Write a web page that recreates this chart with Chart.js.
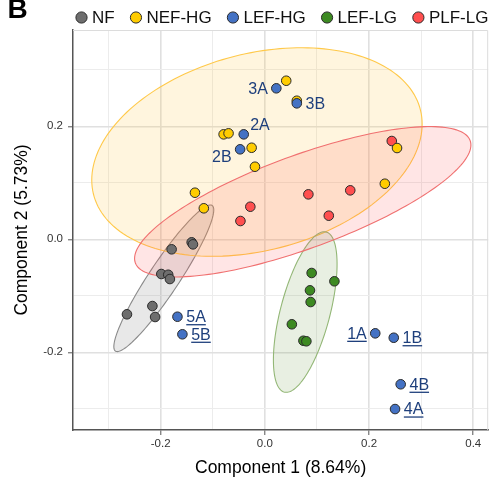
<!DOCTYPE html>
<html>
<head>
<meta charset="utf-8">
<script src="https://cdn.jsdelivr.net/npm/chart.js@4.4.1/dist/chart.umd.min.js"></script>
<style>
html,body{margin:0;padding:0;background:#fff;}
canvas{display:block;}
</style>
</head>
<body>
<canvas id="c" width="494" height="481"></canvas>
<script>
// ---------------- data ----------------
const groupNames = ['NF', 'NEF-HG', 'LEF-HG', 'LEF-LG', 'PLF-LG'];
const groupColors = ['#6e6e6e', '#ffcc00', '#4472c4', '#3d8a22', '#ff4f4f'];

const nfX = [-0.179, -0.1405, -0.138, -0.1988, -0.1855, -0.1823, -0.2159, -0.2647, -0.2107];
const nfY = [-0.0177, -0.0053, -0.0089, -0.0614, -0.0627, -0.0703, -0.1181, -0.1327, -0.1375];

const nefHgX = [0.041, 0.0613, -0.0792, -0.0697, -0.0254, -0.019, -0.1342, -0.1172, 0.2537, 0.2303];
const nefHgY = [0.2807, 0.2453, 0.1858, 0.1876, 0.1621, 0.1285, 0.0825, 0.0549, 0.1616, 0.0984];

const lefHgX = [0.022, 0.0613, -0.0406, -0.0475, -0.1678, -0.1583, 0.2119, 0.2474, 0.2607, 0.2499];
const lefHgY = [0.2673, 0.2407, 0.1858, 0.1593, -0.137, -0.1681, -0.1664, -0.1742, -0.2566, -0.3004];
const lefHgLabels = ['3A', '3B', '2A', '2B', '5A', '5B', '1A', '1B', '4B', '4A'];
const lefHgLabelSide = ['left', 'right', 'upright', 'downleft', 'right', 'right', 'left', 'right', 'right', 'right'];
const lefHgUnderline = [false, false, false, false, true, true, true, true, true, true];

const lefLgX = [0.0898, 0.1335, 0.0866, 0.0879, 0.0518, 0.074, 0.0797];
const lefLgY = [-0.0596, -0.0743, -0.0903, -0.111, -0.1504, -0.1795, -0.1805];

const plfLgX = [-0.0279, -0.0469, 0.2436, 0.0835, 0.1639, 0.1227];
const plfLgY = [0.0577, 0.0324, 0.174, 0.0796, 0.0867, 0.0418];

// confidence ellipses: centre, half width, y-offset of right-most point, half height (data units)
const ellipseGroup = ['NF', 'NEF-HG', 'LEF-LG', 'PLF-LG'];
const ellipseCx = [-0.194, -0.0152, 0.0775, 0.0727];
const ellipseCy = [-0.069, 0.1545, -0.1287, 0.0665];
const ellipseHalfW = [0.0959, 0.3171, 0.0611, 0.3228];
const ellipseRightDy = [0.1209, 0.0496, 0.0848, 0.1004];
const ellipseHalfH = [0.1297, 0.1846, 0.1421, 0.1331];
const ellipseFill = ['rgba(128,128,128,0.18)', 'rgba(255,195,50,0.16)', 'rgba(100,150,60,0.15)', 'rgba(255,80,80,0.15)'];
const ellipseStroke = ['#8a8a8a', '#ffc94a', '#93b776', '#f07070'];

const xTickLabels = [-0.2, 0.0, 0.2, 0.4];
const yTickLabels = [-0.2, 0.0, 0.2];
const xTitle = 'Component 1 (8.64%)';
const yTitle = 'Component 2 (5.73%)';
const panelLetter = 'B';

// ---------------- helpers ----------------
const FONT = "'Liberation Sans', Arial, Helvetica, sans-serif";
Chart.defaults.font.family = FONT;

function pts(xs, ys) { return xs.map((x, i) => ({ x: x, y: ys[i] })); }
function isMajor(v, list) { return list.some(t => Math.abs(t - v) < 1e-6); }
function fmt(v) { return Math.abs(v) < 1e-9 ? '0.0' : v.toFixed(1); }

const seriesX = [nfX, nefHgX, lefHgX, lefLgX, plfLgX];
const seriesY = [nfY, nefHgY, lefHgY, lefLgY, plfLgY];
const drawOrder = [4, 2, 1, 3, 5]; // higher = drawn earlier (further back)

const datasets = groupNames.map((g, i) => ({
  label: g,
  data: pts(seriesX[i], seriesY[i]),
  backgroundColor: groupColors[i],
  borderColor: '#2a2a2a',
  borderWidth: 1,
  pointRadius: 4.8,
  pointHoverRadius: 4.8,
  order: drawOrder[i]
}));

// ---------------- plugins ----------------
const ellipsePlugin = {
  id: 'ellipses',
  beforeDatasetsDraw(chart) {
    const { ctx, chartArea: a, scales: { x, y } } = chart;
    ctx.save();
    ctx.strokeStyle = '#dcdcdc';
    ctx.lineWidth = 1;
    ctx.beginPath();
    ctx.moveTo(a.left, a.top + 0.5); ctx.lineTo(a.right - 0.5, a.top + 0.5); ctx.lineTo(a.right - 0.5, a.bottom);
    ctx.stroke();
    ctx.beginPath();
    ctx.rect(a.left, a.top, a.right - a.left, a.bottom - a.top);
    ctx.clip();
    for (let e = 0; e < ellipseGroup.length; e++) {
      const cx = ellipseCx[e], cy = ellipseCy[e];
      const ux = ellipseHalfW[e], uy = ellipseRightDy[e];
      const vy = Math.sqrt(Math.max(0, ellipseHalfH[e] * ellipseHalfH[e] - uy * uy));
      ctx.beginPath();
      const N = 180;
      for (let k = 0; k <= N; k++) {
        const t = (k / N) * Math.PI * 2;
        const dx = cx + ux * Math.cos(t);
        const dy = cy + uy * Math.cos(t) + vy * Math.sin(t);
        const px = x.getPixelForValue(dx), py = y.getPixelForValue(dy);
        if (k === 0) ctx.moveTo(px, py); else ctx.lineTo(px, py);
      }
      ctx.closePath();
      ctx.fillStyle = ellipseFill[e];
      ctx.fill();
      ctx.strokeStyle = ellipseStroke[e];
      ctx.lineWidth = 1.1;
      ctx.stroke();
    }
    ctx.restore();
  }
};

const labelPlugin = {
  id: 'pointLabels',
  afterDatasetsDraw(chart) {
    const { ctx } = chart;
    const meta = chart.getDatasetMeta(2);
    ctx.save();
    ctx.font = '16px ' + FONT;
    ctx.fillStyle = '#1e3f7c';
    ctx.strokeStyle = '#1e3f7c';
    ctx.textBaseline = 'middle';
    meta.data.forEach((el, i) => {
      const px = el.x, py = el.y;
      let tx, ty, align;
      switch (lefHgLabelSide[i]) {
        case 'left': tx = px - 8.5; ty = py; align = 'right'; break;
        case 'right': tx = px + 8.8; ty = py; align = 'left'; break;
        case 'upright': tx = px + 6.5; ty = py - 10; align = 'left'; break;
        case 'downleft': tx = px - 8.5; ty = py + 7; align = 'right'; break;
      }
      ctx.textAlign = align;
      ctx.fillText(lefHgLabels[i], tx, ty + 1);
      if (lefHgUnderline[i]) {
        const w = ctx.measureText(lefHgLabels[i]).width;
        const x0 = align === 'right' ? tx - w : tx;
        ctx.lineWidth = 1.3;
        ctx.beginPath();
        ctx.moveTo(x0, ty + 8);
        ctx.lineTo(x0 + w, ty + 8);
        ctx.stroke();
      }
    });
    ctx.restore();
  }
};

const legendPlugin = {
  id: 'customLegend',
  afterDraw(chart) {
    const { ctx } = chart;
    ctx.save();
    ctx.font = 'bold 28px ' + FONT;
    ctx.fillStyle = '#000';
    ctx.textAlign = 'left';
    ctx.textBaseline = 'alphabetic';
    ctx.fillText(panelLetter, 7.5, 17.5);
    ctx.font = '17px ' + FONT;
    ctx.textBaseline = 'middle';
    let cx = 81.5;
    const cy = 17.5;
    groupNames.forEach((g, i) => {
      ctx.beginPath();
      ctx.arc(cx, cy, 5.6, 0, Math.PI * 2);
      ctx.fillStyle = groupColors[i];
      ctx.fill();
      ctx.lineWidth = 1;
      ctx.strokeStyle = '#2a2a2a';
      ctx.stroke();
      ctx.fillStyle = '#111';
      const tx = cx + 10.5;
      ctx.fillText(g, tx, cy + 0.5);
      cx = tx + ctx.measureText(g).width + 21.3;
    });
    ctx.restore();
  }
};

// ---------------- chart ----------------
new Chart(document.getElementById('c'), {
  type: 'scatter',
  data: { datasets: datasets },
  plugins: [ellipsePlugin, labelPlugin, legendPlugin],
  options: {
    responsive: false,
    devicePixelRatio: 1,
    animation: false,
    layout: { padding: { top: 30, right: 1.5, left: 0, bottom: 0 } },
    plugins: { legend: { display: false }, tooltip: { enabled: false } },
    scales: {
      x: {
        type: 'linear',
        min: -0.3683,
        max: 0.4287,
        afterFit: s => { s.height = 51; },
        ticks: {
          stepSize: 0.1,
          includeBounds: false,
          autoSkip: false,
          maxRotation: 0,
          padding: 2,
          color: '#333',
          font: { size: 11.5 },
          callback: v => isMajor(v, xTickLabels) ? fmt(v) : ''
        },
        grid: {
          color: c => isMajor(c.tick.value, xTickLabels) ? '#e0e0e0' : '#ececec',
          lineWidth: c => isMajor(c.tick.value, xTickLabels) ? 1.6 : 1,
          tickColor: c => isMajor(c.tick.value, xTickLabels) ? '#555' : 'rgba(0,0,0,0)',
          tickLength: 5,
          tickWidth: 1
        },
        border: { display: true, color: '#555', width: 1.5 },
        title: { display: true, text: xTitle, color: '#000', font: { size: 17.5 }, padding: { top: 0, bottom: 2 } }
      },
      y: {
        type: 'linear',
        min: -0.3375,
        max: 0.3705,
        afterFit: s => { s.width = 73; },
        ticks: {
          stepSize: 0.1,
          includeBounds: false,
          autoSkip: false,
          padding: 5,
          color: '#333',
          font: { size: 11.5 },
          callback: v => isMajor(v, yTickLabels) ? fmt(v) : ''
        },
        grid: {
          color: c => isMajor(c.tick.value, yTickLabels) ? '#e0e0e0' : '#ececec',
          lineWidth: c => isMajor(c.tick.value, yTickLabels) ? 1.6 : 1,
          tickColor: c => isMajor(c.tick.value, yTickLabels) ? '#555' : 'rgba(0,0,0,0)',
          tickLength: 5,
          tickWidth: 1
        },
        border: { display: true, color: '#555', width: 1.5 },
        title: { display: true, text: yTitle, color: '#000', font: { size: 17.5 }, padding: { top: 12, bottom: 0 } }
      }
    }
  }
});
</script>
</body>
</html>
